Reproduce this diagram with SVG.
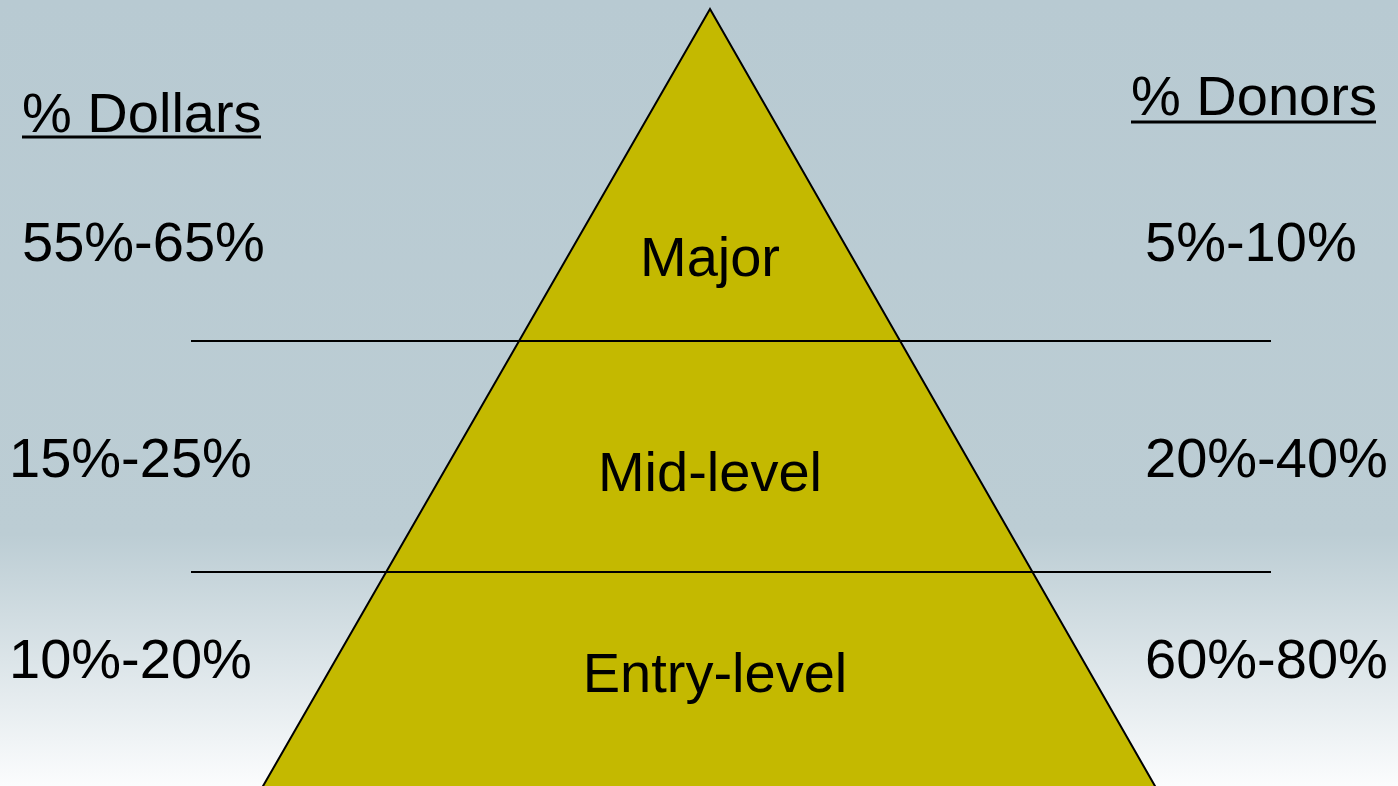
<svg xmlns="http://www.w3.org/2000/svg" width="1398" height="786" viewBox="0 0 1398 786">
  <defs>
    <linearGradient id="bg" x1="0" y1="0" x2="0" y2="786" gradientUnits="userSpaceOnUse">
      <stop offset="0" stop-color="#b8cad2"/>
      <stop offset="0.68" stop-color="#bccdd4"/>
      <stop offset="1" stop-color="#fbfcfd"/>
    </linearGradient>
    <style>
      text { font-family: "Liberation Sans", Arial, sans-serif; font-size: 56px; fill: #000; }
      .mid { text-anchor: middle; }
      .rule { stroke: #000; stroke-width: 2; }
      .head { stroke: #000; stroke-width: 3; }
    </style>
  </defs>

  <rect width="1398" height="786" fill="url(#bg)"/>

  <!-- pyramid; base runs past the bottom edge of the canvas -->
  <g id="pyramid">
    <polygon points="710,9 1163,800 255,800" fill="#c4b900" stroke="#000" stroke-width="2" stroke-linejoin="miter"/>
  </g>

  <!-- tier dividers -->
  <g id="connectors">
    <line class="rule" x1="191" y1="341" x2="1271" y2="341"/>
    <line class="rule" x1="191" y1="572" x2="1271" y2="572"/>
  </g>

  <!-- tier labels -->
  <g id="tier-major"><text class="mid" x="710" y="276">Major</text></g>
  <g id="tier-mid"><text class="mid" x="710" y="491">Mid-level</text></g>
  <g id="tier-entry"><text class="mid" x="715" y="692">Entry-level</text></g>

  <!-- dollars column -->
  <g id="col-dollars">
    <text x="22" y="132">% Dollars</text>
    <line class="head" x1="22" y1="137" x2="261" y2="137"/>
    <text x="22" y="261">55%-65%</text>
    <text x="9" y="477">15%-25%</text>
    <text x="9" y="678">10%-20%</text>
  </g>

  <!-- donors column -->
  <g id="col-donors">
    <text x="1131" y="115">% Donors</text>
    <line class="head" x1="1131" y1="122" x2="1376" y2="122"/>
    <text x="1145" y="261">5%-10%</text>
    <text x="1145" y="477">20%-40%</text>
    <text x="1145" y="678">60%-80%</text>
  </g>
</svg>
